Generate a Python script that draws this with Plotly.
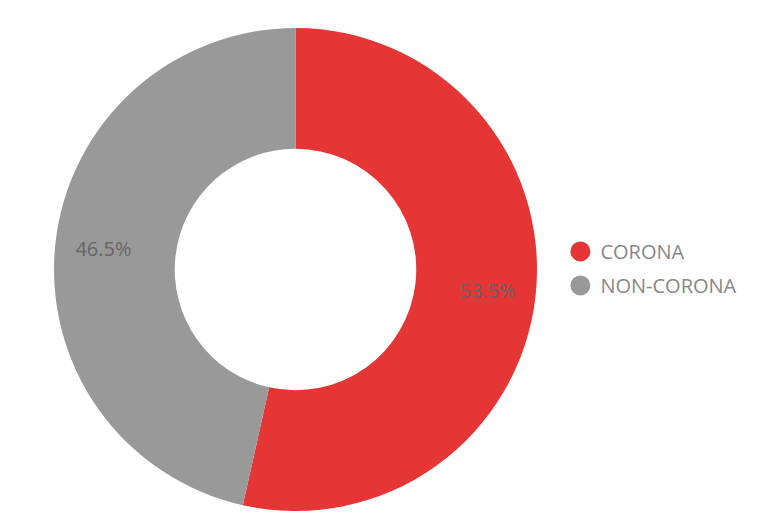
import plotly.graph_objects as go

labels = ["CORONA", "NON-CORONA"]
values = [53.5, 46.5]
colors = ["#E53535", "#999999"]

dom = dict(x=[46 / 778, 529 / 778], y=[21 / 524, 504 / 524])

fig = go.Figure()

# the ring itself
fig.add_trace(go.Pie(
    labels=labels, values=values, hole=0.5, sort=False,
    direction="clockwise", rotation=0,
    marker=dict(colors=colors, line=dict(width=0)),
    textinfo="none", showlegend=False, domain=dom,
    hoverinfo="label+percent",
))

# transparent copy with a bigger hole, only to push the percent labels outward
fig.add_trace(go.Pie(
    labels=labels, values=values, hole=0.6, sort=False,
    direction="clockwise", rotation=0,
    marker=dict(colors=["rgba(0,0,0,0)"] * 2, line=dict(width=0)),
    texttemplate="%{percent:.1%}", textposition="inside",
    insidetextorientation="horizontal",
    textfont=dict(family="Open Sans", size=20, color="#666666"),
    showlegend=False, domain=dom, hoverinfo="skip",
))

# legend entries drawn with round markers
for name, col in zip(labels, colors):
    fig.add_trace(go.Scatter(
        x=[None], y=[None], mode="markers", name=name, legendgroup=name,
        marker=dict(color=col, size=16, symbol="circle", line=dict(color=col, width=4)),
    ))

fig.update_layout(
    width=778, height=524,
    margin=dict(l=0, r=0, t=0, b=0),
    paper_bgcolor="white", plot_bgcolor="white",
    xaxis=dict(visible=False), yaxis=dict(visible=False),
    legend=dict(x=0.71, y=0.503, xanchor="left", yanchor="middle",
                font=dict(family="Open Sans", size=20, color="#888888"),
                itemsizing="trace", tracegroupgap=5),
)

fig.write_html("out.html")
